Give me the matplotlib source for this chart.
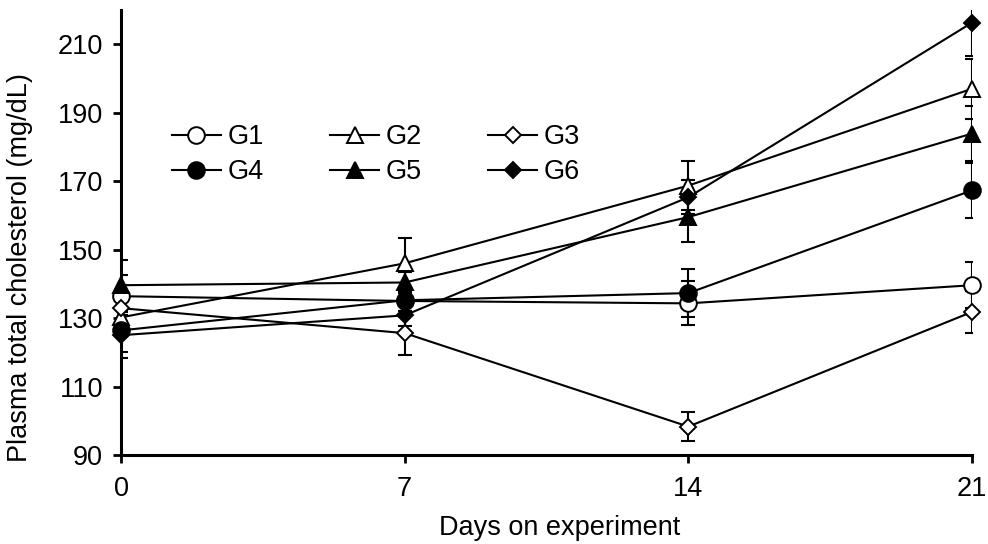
import numpy as np
import matplotlib
matplotlib.use('Agg')
import matplotlib.pyplot as plt

plt.rcParams['font.family'] = ['Liberation Sans', 'DejaVu Sans']

days = [0, 7, 14, 21]
groups = ['G1', 'G2', 'G3', 'G4', 'G5', 'G6']

g1 = [136.4, 135.0, 134.3, 139.6]
g2 = [130.2, 146.0, 168.7, 197.0]
g3 = [132.9, 125.6, 98.3, 131.8]
g4 = [126.4, 135.2, 137.3, 167.3]
g5 = [139.6, 140.4, 159.5, 183.9]
g6 = [125.0, 130.8, 165.3, 216.3]

g1_err = [10.5, 3.0, 6.4, 6.8]
g2_err = [2.0, 7.3, 7.1, 8.8]
g3_err = [2.0, 6.4, 4.3, 6.2]
g4_err = [6.4, 3.0, 6.9, 8.0]
g5_err = [2.9, 3.0, 7.3, 8.0]
g6_err = [6.7, 3.0, 5.0, 9.7]

means = [g1, g2, g3, g4, g5, g6]
errs = [g1_err, g2_err, g3_err, g4_err, g5_err, g6_err]
markers = ['o', '^', 'D', 'o', '^', 'D']
faces = ['white', 'white', 'white', 'black', 'black', 'black']
sizes = [12, 12, 8.5, 12, 12, 8.5]

fig = plt.figure(figsize=(9.88, 5.44), dpi=100)
ax = fig.add_axes([0.1225, 0.1636, 0.8613, 0.818])

handles = []
for i in range(6):
    ax.errorbar(days, means[i], yerr=errs[i], fmt='none', ecolor='black',
                elinewidth=1.5, capsize=5, capthick=1.5, zorder=2)
    h, = ax.plot(days, means[i], color='black', lw=1.5, marker=markers[i],
                 ms=sizes[i], mfc=faces[i], mec='black', mew=1.4,
                 clip_on=False, zorder=3, label=groups[i])
    handles.append(h)

ax.set_xlim(0, 21)
ax.set_ylim(90, 220)
ax.set_xticks(days)
ax.set_yticks(np.arange(90, 211, 20))
ax.tick_params(direction='out', length=6, width=2, labelsize=19.5, pad=7)
ax.tick_params(axis='x', pad=9)
for s in ['top', 'right']:
    ax.spines[s].set_visible(False)
for s in ['left', 'bottom']:
    ax.spines[s].set_linewidth(2.2)

ax.set_xlabel('Days on experiment', fontsize=19.5)
ax.set_ylabel('Plasma total cholesterol (mg/dL)', fontsize=19.5)
ax.xaxis.set_label_coords(0.515, -0.135)
ax.yaxis.set_label_coords(-0.104, 0.421)

# matplotlib fills legend columns first
order = [0, 3, 1, 4, 2, 5]
ax.legend([handles[k] for k in order], [groups[k] for k in order],
          ncol=3, frameon=False, loc='upper left',
          bbox_to_anchor=(172 / 988, 1 - 124 / 544), bbox_transform=fig.transFigure,
          borderpad=0, borderaxespad=0, handlelength=1.8, handletextpad=0.25,
          columnspacing=2.45, labelspacing=0.35, fontsize=19.5)

fig.savefig('out.png', dpi=100)
